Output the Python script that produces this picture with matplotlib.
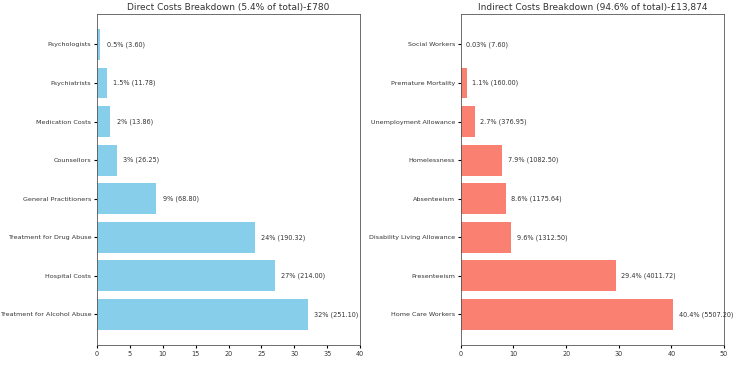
import matplotlib
matplotlib.use("Agg")
import matplotlib.pyplot as plt

# direct costs, listed bottom to top
direct_labels = ["Treatment for Alcohol Abuse", "Hospital Costs", "Treatment for Drug Abuse",
                 "General Practitioners", "Counsellors", "Medication Costs",
                 "Psychiatrists", "Psychologists"]
direct_pct = [32, 27, 24, 9, 3, 2, 1.5, 0.5]
direct_pct_txt = ["32", "27", "24", "9", "3", "2", "1.5", "0.5"]
direct_vals = [251.10, 214.00, 190.32, 68.80, 26.25, 13.86, 11.78, 3.60]

# indirect costs, listed bottom to top
indirect_labels = ["Home Care Workers", "Presenteeism", "Disability Living Allowance",
                   "Absenteeism", "Homelessness", "Unemployment Allowance",
                   "Premature Mortality", "Social Workers"]
indirect_pct = [40.4, 29.4, 9.6, 8.6, 7.9, 2.7, 1.1, 0.03]
indirect_pct_txt = ["40.4", "29.4", "9.6", "8.6", "7.9", "2.7", "1.1", "0.03"]
indirect_vals = [5507.20, 4011.72, 1312.50, 1175.64, 1082.50, 376.95, 160.00, 7.60]

fig = plt.figure(figsize=(7.35, 3.65), dpi=100)
ax1 = fig.add_axes([0.132, 0.055, 0.358, 0.907])
ax2 = fig.add_axes([0.627, 0.055, 0.358, 0.907])

FS = 4.7


def draw(ax, labels, pct, pct_txt, vals, color, xmax, title):
    y = range(len(labels))
    ax.barh(y, pct, color=color)
    ax.set_yticks(list(y))
    ax.set_yticklabels(labels, fontsize=4.55, color="#333333")
    for i, (p, t, v) in enumerate(zip(pct, pct_txt, vals)):
        ax.text(p + 1, i, f"{t}% ({v:.2f})", va="center", fontsize=FS, color="#333333")
    ax.set_xlim(0, xmax)
    ax.tick_params(axis="x", labelsize=FS, length=2.5, pad=2, labelcolor="#333333")
    ax.tick_params(axis="y", length=2.5, pad=1.5)
    ax.set_title(title, fontsize=6.5, pad=3, color="#333333")
    for s in ax.spines.values():
        s.set_linewidth(0.6)
        s.set_color("#555555")


draw(ax1, direct_labels, direct_pct, direct_pct_txt, direct_vals, "skyblue", 40,
     "Direct Costs Breakdown (5.4% of total)-£780")
draw(ax2, indirect_labels, indirect_pct, indirect_pct_txt, indirect_vals, "salmon", 50,
     "Indirect Costs Breakdown (94.6% of total)-£13,874")

fig.savefig("out.png", dpi=100)
